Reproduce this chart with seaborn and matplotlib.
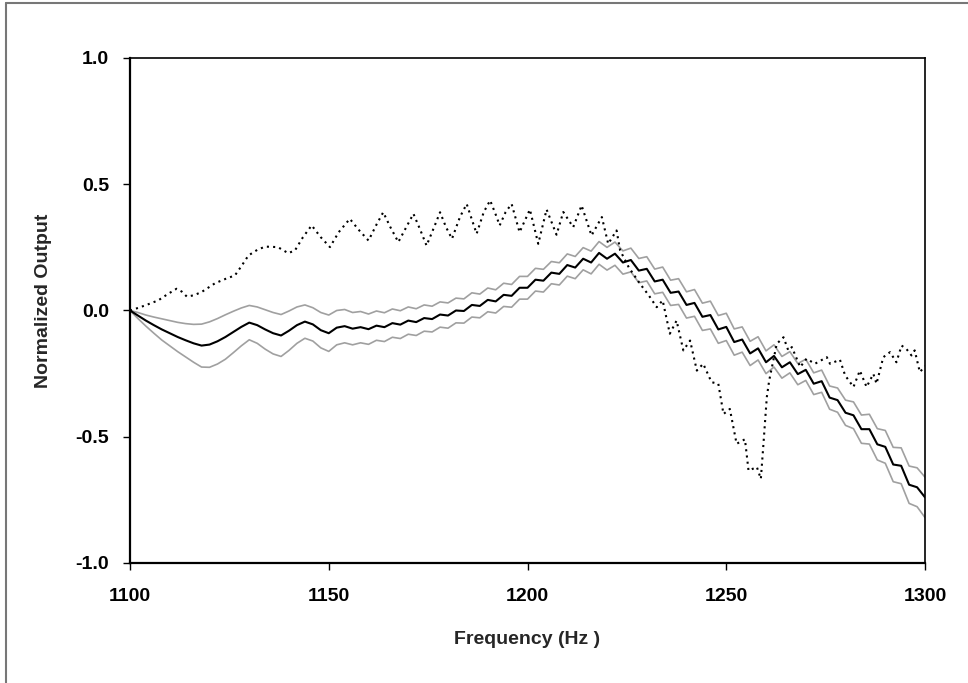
import numpy as np
import matplotlib
matplotlib.use("Agg")
import matplotlib.pyplot as plt
import seaborn as sns
from matplotlib.lines import Line2D

# frequency grid for the averaged response and its band (Hz)
freq = np.arange(1100, 1301, 2)

# averaged normalized output (solid black)
mean_out = [
    0.000, -0.020, -0.040, -0.058, -0.075, -0.090, -0.105, -0.118, -0.130, -0.139,
    -0.135, -0.122, -0.105, -0.085, -0.065, -0.048, -0.058, -0.075, -0.090, -0.099,
    -0.080, -0.058, -0.044, -0.055, -0.078, -0.090, -0.068, -0.062, -0.072, -0.066,
    -0.074, -0.060, -0.066, -0.050, -0.056, -0.040, -0.046, -0.030, -0.034, -0.016,
    -0.020, 0.000, -0.002, 0.022, 0.018, 0.042, 0.036, 0.062, 0.058, 0.090,
    0.090, 0.122, 0.118, 0.150, 0.145, 0.180, 0.170, 0.205, 0.190, 0.228,
    0.205, 0.225, 0.190, 0.200, 0.158, 0.165, 0.115, 0.122, 0.070, 0.075,
    0.022, 0.030, -0.025, -0.018, -0.075, -0.065, -0.125, -0.115, -0.170, -0.150,
    -0.205, -0.180, -0.225, -0.205, -0.252, -0.235, -0.290, -0.280, -0.345, -0.355,
    -0.405, -0.415, -0.470, -0.470, -0.530, -0.540, -0.610, -0.615, -0.690, -0.700,
    -0.740,
]

# half width of the gray band around the mean
band = [
    0.000, 0.012, 0.022, 0.032, 0.042, 0.050, 0.058, 0.066, 0.075, 0.085,
    0.090, 0.090, 0.088, 0.082, 0.075, 0.068, 0.072, 0.078, 0.082, 0.083,
    0.078, 0.072, 0.066, 0.066, 0.070, 0.072, 0.068, 0.066, 0.064, 0.062,
    0.060, 0.058, 0.057, 0.056, 0.055, 0.054, 0.053, 0.052, 0.051, 0.050,
    0.050, 0.049, 0.048, 0.048, 0.047, 0.047, 0.046, 0.046, 0.045, 0.045,
    0.045, 0.045, 0.045, 0.044, 0.044, 0.044, 0.044, 0.044, 0.045, 0.045,
    0.045, 0.046, 0.046, 0.047, 0.048, 0.048, 0.049, 0.050, 0.050, 0.051,
    0.052, 0.053, 0.054, 0.055, 0.055, 0.054, 0.052, 0.050, 0.048, 0.046,
    0.045, 0.044, 0.043, 0.042, 0.042, 0.042, 0.043, 0.044, 0.046, 0.048,
    0.050, 0.053, 0.056, 0.059, 0.062, 0.065, 0.068, 0.071, 0.074, 0.077,
    0.080,
]

# single response (dotted)
dot_freq = [
    1100, 1102, 1103.8, 1107.1, 1109.5, 1111.7, 1113, 1114.3, 1116, 1118,
    1121.4, 1124, 1126.4, 1128, 1129.8, 1132, 1134, 1137.2, 1139.8, 1141.5,
    1143.5, 1145.7, 1148, 1150.3, 1152.5, 1155.3, 1157.5, 1160, 1162, 1163.7,
    1165.5, 1167.5, 1169.5, 1171.3, 1173, 1174.6, 1176.5, 1178, 1179.5, 1181,
    1183, 1184.7, 1186, 1187.2, 1189, 1190.6, 1192, 1193, 1194.5, 1196,
    1198, 1200.6, 1202.7, 1204.8, 1207.3, 1209, 1211.5, 1213.6, 1216.1, 1218.7,
    1220.3, 1222.4, 1223.3, 1225.5, 1228.3, 1230.5, 1232.5, 1234, 1235.8, 1237.5,
    1239.2, 1240.9, 1242.6, 1244.2, 1246.3, 1248, 1249.3, 1250.9, 1252.6, 1254.7,
    1255.6, 1257.7, 1258.7, 1259.3, 1260.2, 1260.8, 1262.7, 1264.4, 1265.6, 1266.5,
    1268.6, 1270.2, 1272.3, 1275.3, 1276.1, 1278.6, 1279.9, 1282, 1283.6, 1285.3,
    1287, 1287.8, 1289.5, 1291.2, 1292.8, 1294.1, 1295.3, 1296.6, 1297.4, 1298.2,
    1298.7, 1300,
]
dot_out = [
    0.000, 0.010, 0.020, 0.040, 0.065, 0.086, 0.075, 0.055, 0.060, 0.073,
    0.108, 0.125, 0.139, 0.175, 0.218, 0.240, 0.253, 0.251, 0.227, 0.238,
    0.290, 0.337, 0.290, 0.251, 0.310, 0.363, 0.320, 0.277, 0.340, 0.389,
    0.330, 0.271, 0.330, 0.383, 0.320, 0.257, 0.330, 0.389, 0.330, 0.284,
    0.370, 0.422, 0.360, 0.304, 0.390, 0.436, 0.380, 0.337, 0.390, 0.422,
    0.310, 0.400, 0.264, 0.400, 0.300, 0.390, 0.330, 0.416, 0.297, 0.370,
    0.264, 0.317, 0.238, 0.170, 0.106, 0.060, 0.013, 0.040, -0.092, -0.040,
    -0.158, -0.119, -0.238, -0.211, -0.284, -0.290, -0.410, -0.390, -0.528, -0.510,
    -0.634, -0.620, -0.667, -0.540, -0.343, -0.277, -0.132, -0.106, -0.158, -0.145,
    -0.224, -0.191, -0.211, -0.185, -0.211, -0.195, -0.257, -0.303, -0.238, -0.303,
    -0.251, -0.290, -0.185, -0.165, -0.205, -0.139, -0.152, -0.178, -0.158, -0.211,
    -0.244, -0.220,
]

x_ticks = [1100, 1150, 1200, 1250, 1300]
y_ticks = [-1.0, -0.5, 0.0, 0.5, 1.0]

upper = np.array(mean_out) + np.array(band)
lower = np.array(mean_out) - np.array(band)

sns.set_style("ticks")
plt.rcParams['font.family'] = ['Liberation Sans', 'DejaVu Sans']
plt.rcParams['font.weight'] = 'bold'
plt.rcParams['axes.unicode_minus'] = False

fig = plt.figure(figsize=(9.68, 6.83), dpi=100)
ax = fig.add_axes([0.1343, 0.1757, 0.8213, 0.7394])

gray = '#a0a0a0'
sns.lineplot(x=freq, y=upper, color=gray, lw=1.2, estimator=None, ax=ax)
sns.lineplot(x=freq, y=lower, color=gray, lw=1.2, estimator=None, ax=ax)
sns.lineplot(x=freq, y=mean_out, color='black', lw=1.5, estimator=None, ax=ax)
sns.lineplot(x=dot_freq, y=dot_out, color='black', lw=1.5, estimator=None,
             linestyle=(0, (1, 2)), ax=ax)

ax.set_xlim(1100, 1300)
ax.set_ylim(-1, 1)
ax.set_xticks(x_ticks)
ax.set_xticklabels([str(t) for t in x_ticks])
ax.set_yticks(y_ticks)
ax.set_yticklabels(['%.1f' % t for t in y_ticks])
ax.tick_params(axis='both', direction='out', length=5, width=1, colors='black',
               labelsize=14)
ax.tick_params(axis='x', pad=13)
ax.tick_params(axis='y', pad=10)
for s in ax.spines.values():
    s.set_color('black')
    s.set_linewidth(1.2)
ax.spines['left'].set_linewidth(1.6)
ax.spines['bottom'].set_linewidth(1.6)

ax.set_xlabel('Frequency (Hz )', fontsize=14, fontweight='bold')
ax.set_ylabel('Normalized Output', fontsize=14, fontweight='bold')
ax.xaxis.set_label_coords(0.5, -0.135)
ax.yaxis.set_label_coords(-0.098, 0.52)

# outer frame (left and top edges)
fig.add_artist(Line2D([6 / 968, 6 / 968], [0, 1 - 3 / 683], transform=fig.transFigure,
                      color='#777777', lw=1.5))
fig.add_artist(Line2D([6 / 968, 1], [1 - 3 / 683, 1 - 3 / 683], transform=fig.transFigure,
                      color='#777777', lw=1.5))

fig.savefig('out.png', dpi=100)
